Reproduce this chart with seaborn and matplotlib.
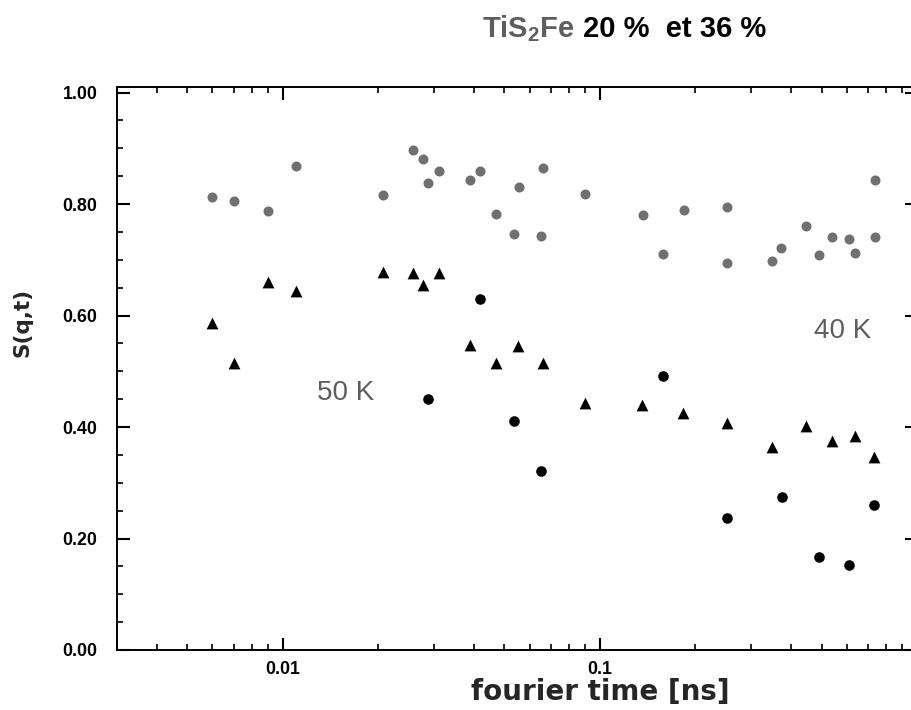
import numpy as np
import pandas as pd
import matplotlib
matplotlib.use("Agg")
import matplotlib.pyplot as plt
import seaborn as sns
from matplotlib.ticker import LogLocator, NullFormatter, MultipleLocator, FormatStrFormatter

# fourier time [ns] and S(q,t)
t_40k = [0.006, 0.007, 0.009, 0.011, 0.0207, 0.0258, 0.0276, 0.0288, 0.031, 0.039,
         0.042, 0.047, 0.0537, 0.0555, 0.065, 0.0663, 0.090, 0.137, 0.158, 0.1845,
         0.251, 0.252, 0.350, 0.373, 0.446, 0.492, 0.540, 0.611, 0.6375, 0.736, 0.736]
s_40k = [0.813, 0.805, 0.788, 0.869, 0.817, 0.897, 0.880, 0.838, 0.860, 0.844,
         0.860, 0.783, 0.747, 0.830, 0.742, 0.865, 0.818, 0.781, 0.710, 0.789,
         0.695, 0.794, 0.698, 0.721, 0.761, 0.709, 0.741, 0.738, 0.712, 0.741, 0.844]

t_tri = [0.006, 0.007, 0.009, 0.011, 0.0207, 0.0258, 0.0276, 0.031, 0.039, 0.047,
         0.0552, 0.0663, 0.090, 0.136, 0.183, 0.252, 0.348, 0.446, 0.538, 0.6375, 0.734]
s_tri = [0.587, 0.515, 0.661, 0.644, 0.679, 0.676, 0.655, 0.676, 0.547, 0.515,
         0.546, 0.515, 0.444, 0.439, 0.425, 0.407, 0.365, 0.401, 0.375, 0.384, 0.346]

t_dot = [0.0287, 0.0419, 0.0537, 0.065, 0.158, 0.251, 0.374, 0.492, 0.611, 0.734]
s_dot = [0.451, 0.630, 0.410, 0.321, 0.491, 0.237, 0.274, 0.167, 0.152, 0.261]

x_ticks = [0.01, 0.1]
x_ticklabels = ["0.01", "0.1"]

sns.set_style("white")
plt.rcParams["mathtext.default"] = "regular"

grey = "#5e5e5e"
fig = plt.figure(figsize=(9.12, 7.10), dpi=100)
ax = fig.add_axes([117 / 912, 1 - 650 / 710, 800 / 912, 563 / 710])

sns.scatterplot(x=t_40k, y=s_40k, ax=ax, color="#707070", marker="o", s=52, linewidth=0)
sns.scatterplot(x=t_dot, y=s_dot, ax=ax, color="black", marker="o", s=58, linewidth=0)
sns.scatterplot(x=t_tri, y=s_tri, ax=ax, color="black", marker="^", s=72, linewidth=0)

ax.set_xscale("log")
ax.set_xlim(0.003, 1.0)
ax.set_ylim(0, 1.01)

ax.set_xticks(x_ticks)
ax.set_xticklabels(x_ticklabels)
ax.xaxis.set_minor_locator(LogLocator(base=10, subs=np.arange(2, 10)))
ax.xaxis.set_minor_formatter(NullFormatter())
ax.yaxis.set_major_locator(MultipleLocator(0.2))
ax.yaxis.set_minor_locator(MultipleLocator(0.05))
ax.yaxis.set_major_formatter(FormatStrFormatter("%.2f"))

for sp in ax.spines.values():
    sp.set_visible(True)
    sp.set_color("black")
    sp.set_linewidth(1.4)

ax.tick_params(which="both", direction="in", top=True, right=True, bottom=True, left=True, colors="black")
ax.tick_params(which="major", length=9, width=1.5)
ax.tick_params(which="minor", length=4.5, width=1.2)
ax.tick_params(axis="x", which="major", pad=8)
ax.tick_params(axis="y", which="major", pad=14)
for lab in ax.get_xticklabels() + ax.get_yticklabels():
    lab.set_fontfamily("Liberation Sans")
    lab.set_fontweight("bold")
    lab.set_fontsize(12.8)

ax.set_xlabel("fourier time [ns]", fontsize=20, fontweight="bold", family="DejaVu Sans")
ax.set_ylabel("S(q,t)", fontsize=15.5, fontweight="bold", family="DejaVu Sans")
ax.xaxis.set_label_coords(0.604, -0.05)
ax.yaxis.set_label_coords(-0.106, 0.581)

ax.text(0.0158, 0.448, "50 K", fontsize=20, color=grey, family="Liberation Sans",
        ha="center", va="baseline")
ax.text(0.582, 0.560, "40 K", fontsize=20, color=grey, family="Liberation Sans",
        ha="center", va="baseline")

# title: grey compound name followed by black concentrations on the same baseline
t1 = fig.text(482 / 912, 1 - 37 / 710, "TiS$_2$Fe", fontsize=21, fontweight="bold",
              family="Liberation Sans", color=grey, va="baseline", ha="left")
fig.canvas.draw()
bb = t1.get_window_extent()
fig.text(bb.x1 / fig.bbox.width, 1 - 37 / 710, " 20 %  et 36 %", fontsize=21, fontweight="bold",
         family="Liberation Sans", color="black", va="baseline", ha="left")

fig.savefig("out.png", dpi=100)
